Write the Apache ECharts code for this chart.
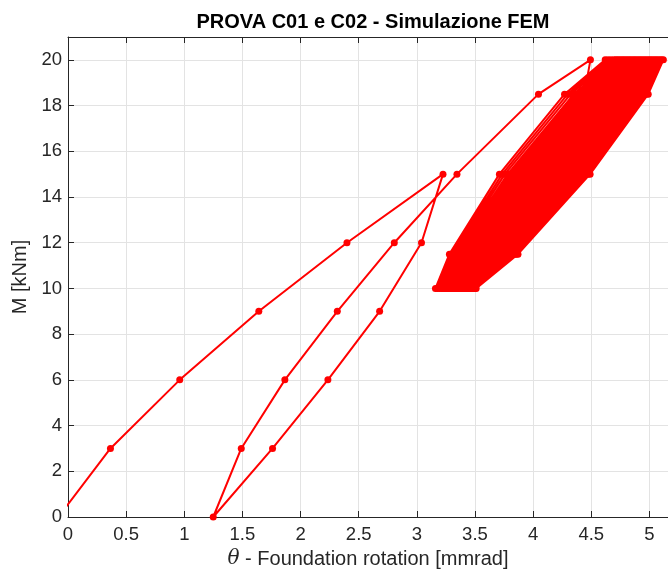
<!DOCTYPE html>
<html>
<head>
<meta charset="utf-8">
<script src="https://cdn.jsdelivr.net/npm/echarts@6/dist/echarts.min.js"></script>
<style>
html,body{margin:0;padding:0;background:#fff;}
#chart{width:668px;height:576px;}
</style>
</head>
<body>
<div id="chart"></div>
<script>
// Initial loading / unloading / reloading path (theta [mmrad], M [kNm])
var initTheta = [-0.083, 0.365, 0.961, 1.641, 2.399, 3.225, 3.04, 2.68, 2.235, 1.759, 1.249, 1.49, 1.865, 2.316, 2.806, 3.345, 4.046, 4.493, 4.44, 3.96, 3.42];
var initM     = [0, 3, 6, 9, 12, 15, 12, 9, 6, 3, 0, 3, 6, 9, 12, 15, 18.5, 20, 18.5, 15, 11.5];

// Cyclic phase between 10 and 20 kNm: M levels of each cycle
var cycLevels = [10, 11.5, 15, 18.5, 20, 18.5, 15, 11.5];
// theta at each level of each cycle (loading branch then unloading branch)
var cycLoad10 = [3.160,3.177,3.194,3.211,3.222,3.233,3.244,3.256,3.267,3.278,3.289,3.300,3.311,3.322,3.333,3.344,3.356,3.367,3.378,3.389,3.400,3.411,3.422,3.433,3.445,3.455,3.467,3.478,3.489,3.500];
var cycLoad11 = [3.280,3.296,3.312,3.328,3.339,3.349,3.359,3.370,3.380,3.391,3.401,3.412,3.422,3.433,3.443,3.453,3.464,3.475,3.485,3.495,3.506,3.516,3.527,3.537,3.548,3.558,3.569,3.579,3.589,3.600];
var cycLoad15 = [3.710,3.734,3.757,3.781,3.796,3.811,3.827,3.842,3.858,3.873,3.888,3.904,3.919,3.934,3.950,3.965,3.980,3.996,4.011,4.026,4.042,4.057,4.072,4.088,4.103,4.118,4.134,4.149,4.164,4.180];
var cycLoad18 = [4.270,4.297,4.323,4.350,4.367,4.384,4.401,4.419,4.436,4.453,4.471,4.488,4.505,4.523,4.540,4.557,4.575,4.592,4.609,4.627,4.644,4.662,4.679,4.696,4.714,4.731,4.748,4.766,4.783,4.800];
var cycTop20  = [4.620,4.645,4.670,4.695,4.712,4.728,4.744,4.761,4.777,4.793,4.810,4.826,4.842,4.859,4.875,4.891,4.908,4.924,4.940,4.957,4.973,4.990,5.006,5.022,5.039,5.055,5.071,5.088,5.104,5.120];
var cycUnl18  = [4.490,4.515,4.540,4.565,4.582,4.598,4.614,4.631,4.647,4.663,4.680,4.696,4.712,4.729,4.745,4.761,4.778,4.794,4.810,4.827,4.843,4.860,4.876,4.892,4.909,4.925,4.941,4.958,4.974,4.990];
var cycUnl15  = [3.980,4.006,4.031,4.057,4.073,4.090,4.106,4.123,4.140,4.156,4.173,4.190,4.206,4.223,4.240,4.256,4.273,4.290,4.306,4.323,4.340,4.357,4.373,4.390,4.407,4.423,4.440,4.457,4.473,4.490];
var cycUnl11  = [3.440,3.462,3.483,3.505,3.519,3.532,3.547,3.561,3.575,3.589,3.603,3.617,3.631,3.645,3.659,3.673,3.687,3.701,3.715,3.729,3.744,3.758,3.772,3.786,3.800,3.814,3.828,3.842,3.856,3.870];
var finalTheta = 3.51, finalM = 10;

var xTicks = [0, 0.5, 1, 1.5, 2, 2.5, 3, 3.5, 4, 4.5, 5];
var yTicks = [0, 2, 4, 6, 8, 10, 12, 14, 16, 18, 20];

var data = [];
for (var i = 0; i < initTheta.length; i++) data.push([initTheta[i], initM[i]]);
var cols = [cycLoad10, cycLoad11, cycLoad15, cycLoad18, cycTop20, cycUnl18, cycUnl15, cycUnl11];
for (var k = 0; k < cycLoad10.length; k++) {
  for (var j = 0; j < cols.length; j++) data.push([cols[j][k], cycLevels[j]]);
}
data.push([finalTheta, finalM]);

var txt = '#262626';
var font = 'Liberation Sans, Arial, Helvetica, sans-serif';
var chart = echarts.init(document.getElementById('chart'), null, {renderer: 'canvas'});
chart.setOption({
  animation: false,
  backgroundColor: '#ffffff',
  title: {
    text: 'PROVA C01 e C02 - Simulazione FEM',
    left: 368, top: 7, textAlign: 'center',
    textStyle: {fontFamily: font, fontSize: 20, fontWeight: 'bold', color: '#000'}
  },
  grid: {left: 68, right: 0, top: 37, bottom: 59, containLabel: false},
  xAxis: [{
    type: 'value', min: 0, max: 5.16, interval: 0.5,
    name: '{i|θ} - Foundation rotation [mmrad]',
    nameLocation: 'middle', nameGap: 32,
    nameTextStyle: {fontFamily: font, fontSize: 20, color: txt,
      rich: {i: {fontFamily: 'DejaVu Serif, serif', fontStyle: 'italic', fontSize: 20, color: txt}}},
    axisLine: {show: true, onZero: false, lineStyle: {color: txt, width: 1}},
    axisTick: {show: true, inside: true, length: 6, lineStyle: {color: txt}},
    axisLabel: {fontFamily: font, fontSize: 18.5, color: txt, margin: 8, showMaxLabel: false,
      formatter: function (v) { return xTicks.indexOf(+v.toFixed(2)) >= 0 ? String(v) : ''; }},
    splitLine: {show: true, lineStyle: {color: '#e3e3e3', width: 1}}
  }, {
    type: 'value', min: 0, max: 5.16, interval: 0.5, position: 'top',
    axisLine: {show: true, onZero: false, lineStyle: {color: txt, width: 1}},
    axisTick: {show: true, inside: true, length: 6, lineStyle: {color: txt}},
    axisLabel: {show: false}, splitLine: {show: false}
  }],
  yAxis: [{
    type: 'value', min: 0, max: 21, interval: 2,
    name: 'M [kNm]', nameLocation: 'middle', nameGap: 31,
    nameTextStyle: {fontFamily: font, fontSize: 20, color: txt},
    axisLine: {show: true, onZero: false, lineStyle: {color: txt, width: 1}},
    axisTick: {show: true, inside: true, length: 6, lineStyle: {color: txt}},
    axisLabel: {fontFamily: font, fontSize: 18.5, color: txt, margin: 6, showMaxLabel: false,
      formatter: function (v) { return yTicks.indexOf(v) >= 0 ? String(v) : ''; }},
    splitLine: {show: true, lineStyle: {color: '#e3e3e3', width: 1}}
  }],
  series: [{
    type: 'line', data: data, clip: true,
    symbol: 'circle', symbolSize: 7, showSymbol: true,
    lineStyle: {color: '#ff0000', width: 2},
    itemStyle: {color: '#ff0000', borderWidth: 0},
    z: 3
  }]
});
</script>
</body>
</html>
